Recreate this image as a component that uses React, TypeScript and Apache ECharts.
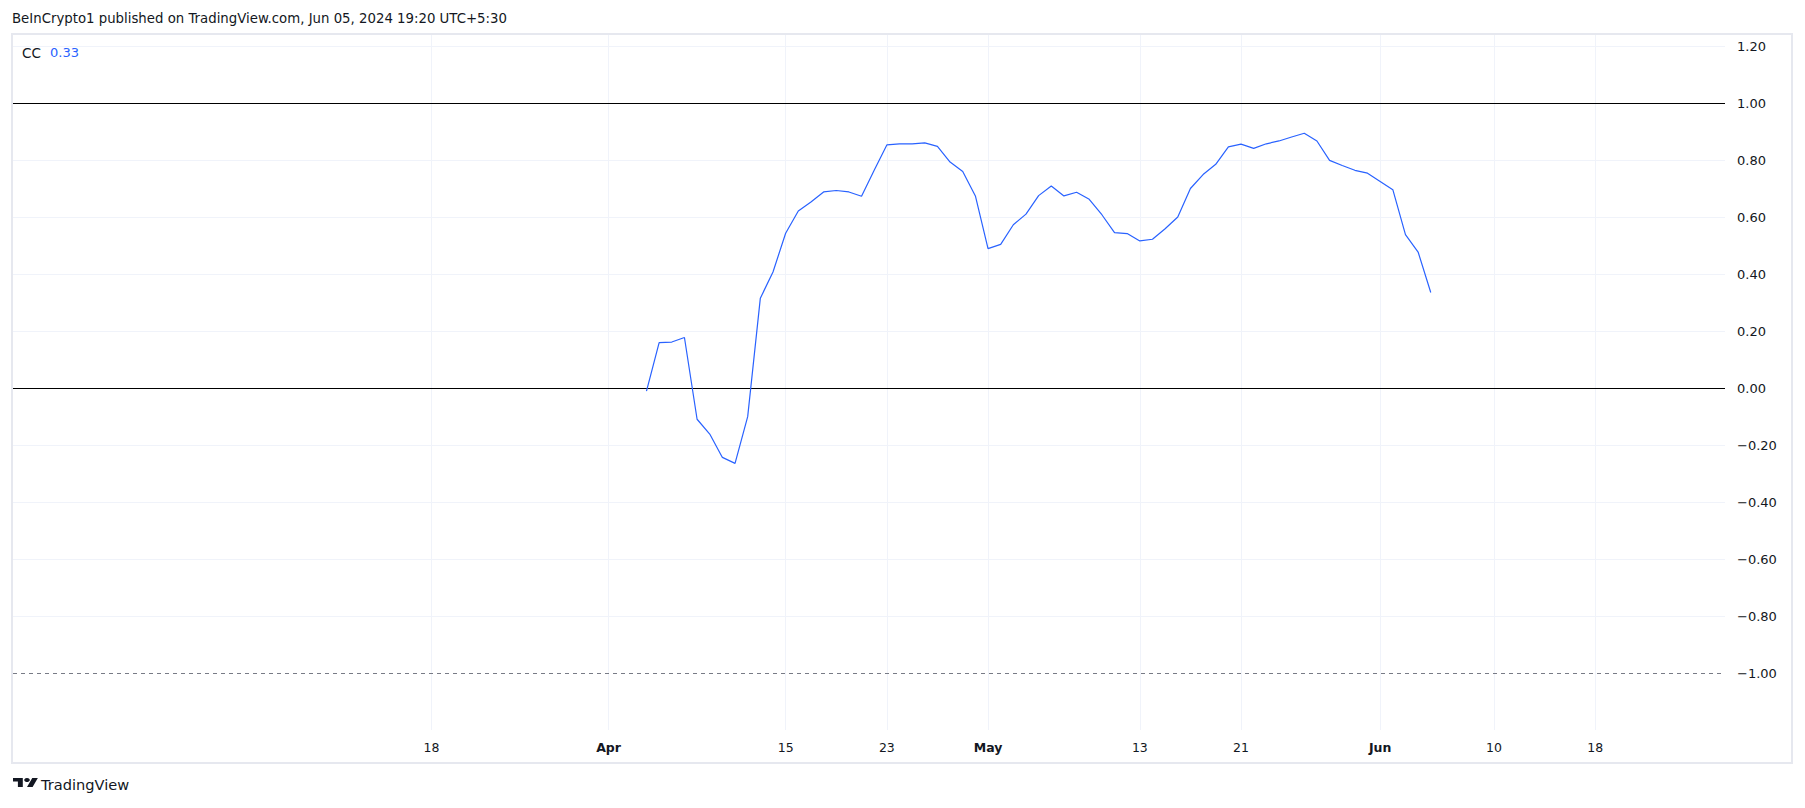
import React, { useEffect, useRef } from "react";
import * as echarts from "echarts";

// ---- data ----
const startDate = "2024-04-04";
const ccValues = [
  -0.01, 0.16, 0.162, 0.178, -0.109, -0.161, -0.243, -0.264, -0.1, 0.316,
  0.408, 0.544, 0.622, 0.654, 0.689, 0.694, 0.689, 0.674, 0.765, 0.854,
  0.858, 0.858, 0.861, 0.849, 0.794, 0.761, 0.675,
  0.49, 0.505, 0.574, 0.611, 0.676, 0.71, 0.675, 0.688, 0.663, 0.609,
  0.546, 0.543, 0.517, 0.523, 0.56, 0.601, 0.701, 0.75, 0.786, 0.847,
  0.857, 0.842, 0.858, 0.868, 0.882, 0.895, 0.868, 0.8, 0.782, 0.765, 0.755,
  0.726, 0.697, 0.539, 0.478, 0.336,
];
const tickDates = [
  "2024-03-18", "2024-04-01", "2024-04-15", "2024-04-23", "2024-05-01",
  "2024-05-13", "2024-05-21", "2024-06-01", "2024-06-10", "2024-06-18",
];
const tickLabels = ["18", "Apr", "15", "23", "May", "13", "21", "Jun", "10", "18"];
const monthLabels = ["Apr", "May", "Jun"];
const yGridValues = [-0.8, -0.6, -0.4, -0.2, 0.2, 0.4, 0.6, 0.8, 1.2];
const levelSolid = [1, 0];
const levelDashed = [-1];
const headerText = "BeInCrypto1 published on TradingView.com, Jun 05, 2024 19:20 UTC+5:30";
const indicatorName = "CC";
const lastValueText = "0.33";
const brandText = "TradingView";

const DAY = 86400000;
const anchor = Date.parse("2024-04-01");
const xMin = anchor - 47.08 * DAY;
const xMax = anchor + 88.26 * DAY;

const logoPath = "M14 22H7V11H0V4h14v18zM28 22h-8l7.5-18h8L28 22z";
let logoRegistered = false;

export default function App() {
  const ref = useRef<HTMLDivElement>(null);
  useEffect(() => {
    if (!ref.current) return;
    if (!logoRegistered) {
      echarts.graphic.registerShape("tvlogo", echarts.graphic.extendPath(logoPath, {}) as any);
      logoRegistered = true;
    }
    const chart = echarts.init(ref.current, null, { renderer: "svg" });
    const start = Date.parse(startDate);
    const seriesData = ccValues.map((v, i) => [start + i * DAY, v]);
    const tickValues = tickDates.map((d) => Date.parse(d));
    const labelFor = (v: number) => {
      const idx = tickValues.findIndex((t) => Math.abs(t - v) < DAY / 2);
      if (idx < 0) return "";
      const t = tickLabels[idx];
      return monthLabels.includes(t) ? "{b|" + t + "}" : t;
    };
    const font = "DejaVu Sans";
    const gridColor = "#f0f3fa";
    chart.setOption({
      animation: false,
      backgroundColor: "#ffffff",
      grid: { left: 13, right: 80, top: 35, bottom: 78, containLabel: false },
      xAxis: {
        type: "value",
        min: xMin,
        max: xMax,
        axisLine: { show: false },
        axisTick: { show: false, customValues: tickValues },
        splitLine: { show: false },
        axisLabel: {
          customValues: tickValues,
          formatter: (v: number) => labelFor(v),
          color: "#131722",
          fontFamily: font,
          fontSize: 12.5,
          margin: 11,
          rich: { b: { fontWeight: "bold", fontFamily: font, fontSize: 12.5, color: "#131722" } },
        },
      },
      yAxis: {
        type: "value",
        position: "right",
        min: -1.2,
        max: 1.24,
        interval: 0.2,
        axisLine: { show: false },
        axisTick: { show: false },
        splitLine: { show: false },
        axisLabel: {
          color: "#131722",
          fontFamily: font,
          fontSize: 13,
          margin: 12,
          showMinLabel: false,
          showMaxLabel: false,
          formatter: (v: number) => {
            if (v < -1.1 || v > 1.21) return "";
            const s = Math.abs(v).toFixed(2);
            return v < -0.001 ? "\u2212" + s : s;
          },
        },
      },
      series: [
        {
          type: "line",
          data: [],
          z: 1,
          silent: true,
          markLine: {
            silent: true,
            symbol: "none",
            label: { show: false },
            lineStyle: { color: gridColor, width: 1, type: "solid" },
            data: [
              ...tickValues.map((t) => ({ xAxis: t })),
              ...yGridValues.map((y) => ({ yAxis: y })),
            ],
          },
        },
        {
          type: "line",
          data: [],
          z: 2,
          silent: true,
          markLine: {
            silent: true,
            symbol: "none",
            label: { show: false },
            data: [
              ...levelSolid.map((y) => ({ yAxis: y, lineStyle: { color: "#000000", width: 1, type: "solid" } })),
              ...levelDashed.map((y) => ({ yAxis: y, lineStyle: { color: "#787b86", width: 1, type: [4, 4] } })),
            ],
          },
        },
        {
          name: indicatorName,
          type: "line",
          z: 5,
          data: seriesData,
          showSymbol: false,
          symbol: "none",
          lineStyle: { color: "#2962ff", width: 1.2 },
        },
      ],
      graphic: [
        {
          type: "rect",
          shape: { x: 12, y: 34, width: 1780, height: 729 },
          style: { fill: "none", stroke: "#e6e8ef", lineWidth: 2 },
          silent: true,
        },
        {
          type: "text",
          left: 12,
          top: 12,
          style: { text: headerText, fill: "#131722", font: "13.3px 'DejaVu Sans'" },
        },
        {
          type: "text",
          left: 22,
          top: 46,
          style: { text: indicatorName, fill: "#131722", font: "13.5px 'DejaVu Sans'" },
        },
        {
          type: "text",
          left: 50,
          top: 46,
          style: { text: lastValueText, fill: "#2962ff", font: "13px 'DejaVu Sans'" },
        },
        {
          type: "group",
          x: 13,
          y: 776,
          scaleX: 0.7,
          scaleY: 0.5,
          children: [
            { type: "tvlogo", style: { fill: "#131722" } },
            { type: "circle", shape: { cx: 20, cy: 8, r: 4 }, style: { fill: "#131722" } },
          ],
        },
        {
          type: "text",
          left: 41,
          top: 777,
          style: { text: brandText, fill: "#131722", font: "14.6px 'DejaVu Sans'" },
        },
      ],
    });
    return () => chart.dispose();
  }, []);
  return (
    <div
      ref={ref}
      style={{ position: "absolute", left: 0, top: 0, width: 1805, height: 808 }}
    />
  );
}
